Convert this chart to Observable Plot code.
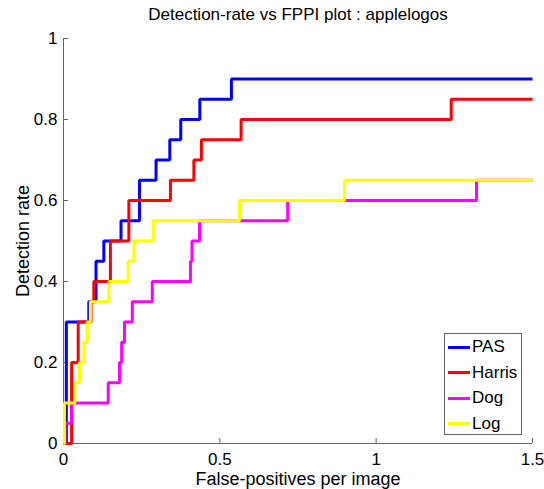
<!DOCTYPE html>
<html>
<head>
<meta charset="utf-8">
<script src="https://cdn.jsdelivr.net/npm/d3@7"></script>
<script src="https://cdn.jsdelivr.net/npm/@observablehq/plot@0.6"></script>
<style>
  html, body { margin: 0; padding: 0; background: #fff; }
  #wrap { position: relative; width: 544px; height: 489px; font-family: "Liberation Sans", Arial, sans-serif; }
  #legend { position: absolute; left: 444px; top: 333px; width: 76px; height: 100px; border: 1px solid #666; background: #fff; box-sizing: content-box; }
  .entry { position: absolute; left: 3px; height: 26px; display: flex; align-items: center; font-size: 17px; color: #000; }
  .swatch { width: 22px; height: 3px; margin-right: 2px; }
</style>
</head>
<body>
<div id="wrap"></div>
<script>
// ---- data ----
const titleText = "Detection-rate vs FPPI plot : applelogos";
const xLabel = "False-positives per image";
const yLabel = "Detection rate";

const xTicks = [0, 0.5, 1, 1.5];
const xTickLabels = ["0", "0.5", "1", "1.5"];
const yTicks = [0, 0.2, 0.4, 0.6, 0.8, 1];
const yTickLabels = ["0", "0.2", "0.4", "0.6", "0.8", "1"];

const seriesNames = ["PAS", "Harris", "Dog", "Log"];
const seriesColors = ["#0000ff", "#ff0000", "#ff00ff", "#ffff00"];

const pasFppi   = [0, 0.009, 0.081, 0.104, 0.129, 0.184, 0.243, 0.296, 0.340, 0.375, 0.436, 0.537, 1.5];
const pasRate   = [0, 0.3,   0.35,  0.45,  0.5,   0.55,  0.65,  0.7,   0.75,  0.8,   0.85,  0.9,   0.9];

const harrisFppi = [0, 0.026, 0.047, 0.088, 0.097, 0.150, 0.209, 0.342, 0.417, 0.441, 0.568, 1.240, 1.5];
const harrisRate = [0, 0.2,   0.3,   0.35,  0.4,   0.5,   0.6,   0.65,  0.7,   0.75,  0.8,   0.85,  0.85];

const dogFppi = [0, 0.005, 0.026, 0.143, 0.179, 0.186, 0.195, 0.220, 0.284, 0.406, 0.411, 0.435, 0.717, 1.321, 1.5];
const dogRate = [0, 0.05,  0.1,   0.15,  0.2,   0.25,  0.3,   0.35,  0.4,   0.45,  0.5,   0.55,  0.6,   0.65,  0.65];

const logFppi = [0, 0.003, 0.036, 0.051, 0.065, 0.076, 0.086, 0.145, 0.207, 0.225, 0.287, 0.563, 0.899, 1.5];
const logRate = [0, 0.1,   0.15,  0.2,   0.25,  0.3,   0.35,  0.4,   0.45,  0.5,   0.55,  0.6,   0.65,  0.65];

// ---- build table ----
const seriesX = [pasFppi, harrisFppi, dogFppi, logFppi];
const seriesY = [pasRate, harrisRate, dogRate, logRate];
const tables = seriesNames.map((name, k) =>
  seriesX[k].map((x, i) => ({series: name, fppi: x, rate: seriesY[k][i]})));

const axisColor = "#666";
const W = 544, H = 489, mT = 38, mR = 12, mB = 46, mL = 63;
const frameW = W - mL - mR, frameH = H - mT - mB;
const tickLen = 5;

const chart = Plot.plot({
  width: W, height: H,
  marginTop: mT, marginRight: mR, marginBottom: mB, marginLeft: mL,
  style: {fontFamily: "'Liberation Sans', Arial, sans-serif", fontSize: "17px", color: "#000", background: "#fff", overflow: "visible"},
  x: {domain: [0, 1.5]},
  y: {domain: [0, 1]},
  marks: [
    Plot.ruleY([0], {stroke: axisColor, strokeWidth: 1}),
    Plot.ruleX([0], {stroke: axisColor, strokeWidth: 1}),
    Plot.tickY(yTicks, {y: d => d, stroke: axisColor, insetRight: frameW - tickLen}),
    Plot.tickX(xTicks, {x: d => d, stroke: axisColor, insetTop: frameH - tickLen}),
    Plot.axisY(yTicks, {tickSize: 0, tickPadding: 6, tickFormat: d => yTickLabels[yTicks.indexOf(d)], label: null, fontSize: 17, fill: "#000"}),
    Plot.axisX(xTicks, {tickSize: 0, tickPadding: 9, tickFormat: d => xTickLabels[xTicks.indexOf(d)], label: null, fontSize: 17, fill: "#000"}),
    ...tables.map((t, k) => Plot.line(t, {
      x: "fppi", y: "rate", curve: "step-after",
      stroke: seriesColors[k], strokeWidth: 3, strokeLinejoin: "miter", strokeLinecap: "butt"
    })),
    Plot.text([titleText], {text: d => d, frameAnchor: "top", textAnchor: "middle", lineAnchor: "middle", dy: -24, fontSize: 17, fill: "#000"}),
    Plot.text([xLabel], {text: d => d, frameAnchor: "bottom", textAnchor: "middle", lineAnchor: "middle", dy: 36, fontSize: 18, fill: "#000"}),
    Plot.text([yLabel], {text: d => d, frameAnchor: "left", textAnchor: "middle", lineAnchor: "middle", rotate: -90, dx: -40, fontSize: 18, fill: "#000"})
  ]
});

const wrap = document.getElementById("wrap");
wrap.appendChild(chart);

// legend
const legend = document.createElement("div");
legend.id = "legend";
seriesNames.forEach((name, k) => {
  const e = document.createElement("div");
  e.className = "entry";
  e.style.top = (0 + k * 25.5) + "px";
  const sw = document.createElement("span");
  sw.className = "swatch";
  sw.style.background = seriesColors[k];
  const tx = document.createElement("span");
  tx.textContent = name;
  e.appendChild(sw);
  e.appendChild(tx);
  legend.appendChild(e);
});
wrap.appendChild(legend);
</script>
</body>
</html>
